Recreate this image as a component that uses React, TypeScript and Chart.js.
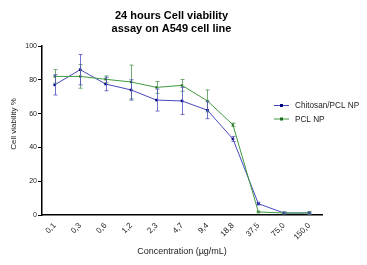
import React, { useEffect, useRef } from "react";
import { Chart, registerables } from "chart.js";

Chart.register(...registerables);

const categories = ["0,1", "0,3", "0,6", "1,2", "2,3", "4,7", "9,4", "18,8", "37,5", "75,0", "150,0"];
const chitosanValues = [77, 86, 77.5, 74, 68, 67.5, 62, 45, 6.7, 1.2, 1.2];
const chitosanErrors = [6, 9, 4, 6, 6.5, 8, 5, 1.5, 0.8, 0.5, 0.5];
const pclValues = [82, 82, 80.3, 78.7, 75.5, 76.7, 67.5, 53.4, 1.8, 1.2, 1.2];
const pclErrors = [4, 7, 2, 10, 3.5, 3.5, 6.5, 1, 0.5, 0.5, 0.8];
const yTicks = [0, 20, 40, 60, 80, 100];
const titleLines = ["24 hours Cell viability", "assay on A549 cell line"];
const seriesNames = ["Chitosan/PCL NP", "PCL NP"];
const yTitle = "Cell viability %";

const FONT = "'Liberation Sans', Arial, sans-serif";

const errorBarPlugin = {
  id: "errorBars",
  afterDatasetsDraw(chart: any) {
    const ctx = chart.ctx;
    const xs = chart.scales.x;
    const ys = chart.scales.y;
    const sets = [
      { v: pclValues, e: pclErrors, c: "rgba(80,150,80,0.8)" },
      { v: chitosanValues, e: chitosanErrors, c: "rgba(80,80,190,0.8)" },
    ];
    ctx.save();
    ctx.lineWidth = 1;
    sets.forEach((s) => {
      ctx.strokeStyle = s.c;
      s.v.forEach((v, i) => {
        const x = Math.round(xs.getPixelForValue(i)) + 0.5;
        const yt = ys.getPixelForValue(v + s.e[i]);
        const yb = ys.getPixelForValue(Math.max(0, v - s.e[i]));
        ctx.beginPath();
        ctx.moveTo(x, yt);
        ctx.lineTo(x, yb);
        ctx.moveTo(x - 2, yt);
        ctx.lineTo(x + 2, yt);
        ctx.moveTo(x - 2, yb);
        ctx.lineTo(x + 2, yb);
        ctx.stroke();
      });
    });
    ctx.restore();
  },
};

const decorPlugin = {
  id: "decor",
  afterDraw(chart: any) {
    const ctx = chart.ctx;
    ctx.save();
    // title
    ctx.fillStyle = "#000";
    ctx.font = `bold 11px ${FONT}`;
    ctx.textAlign = "center";
    ctx.textBaseline = "middle";
    ctx.fillText(titleLines[0], 163.5, 7.5);
    ctx.fillText(titleLines[1], 163.5, 20.5);
    // y axis title
    ctx.save();
    ctx.translate(6, 116);
    ctx.rotate(-Math.PI / 2);
    ctx.font = `8px ${FONT}`;
    ctx.fillStyle = "#222";
    ctx.fillText(yTitle, 0, 0);
    ctx.restore();
    // legend
    const items = [
      { name: seriesNames[0], line: "#4848c0", mark: "#000080", y: 97.5 },
      { name: seriesNames[1], line: "#3f9a3f", mark: "#1d6b1d", y: 111 },
    ];
    ctx.font = `8.2px ${FONT}`;
    ctx.textAlign = "left";
    items.forEach((it) => {
      ctx.strokeStyle = it.line;
      ctx.lineWidth = 1;
      ctx.beginPath();
      ctx.moveTo(266, it.y);
      ctx.lineTo(281, it.y);
      ctx.stroke();
      ctx.fillStyle = it.mark;
      ctx.fillRect(272, it.y - 1.5, 3, 3);
      ctx.fillStyle = "#222";
      ctx.fillText(it.name, 287, it.y + 0.5);
    });
    ctx.restore();
  },
};

export default function App() {
  const ref = useRef<HTMLCanvasElement>(null);
  useEffect(() => {
    if (!ref.current) return;
    const chart = new Chart(ref.current, {
      type: "line",
      data: {
        labels: categories,
        datasets: [
          {
            label: seriesNames[1],
            data: pclValues,
            borderColor: "#3f9a3f",
            backgroundColor: "#1d6b1d",
            borderWidth: 1,
            pointStyle: "rect",
            pointRadius: 1.6,
            pointBorderWidth: 0,
            tension: 0,
          },
          {
            label: seriesNames[0],
            data: chitosanValues,
            borderColor: "#4848c0",
            backgroundColor: "#000080",
            borderWidth: 1,
            pointStyle: "rect",
            pointRadius: 1.8,
            pointBorderWidth: 0,
            tension: 0,
          },
        ],
      },
      options: {
        responsive: false,
        animation: false,
        layout: { padding: { top: 38, right: 37, left: 0, bottom: 0 } },
        plugins: { legend: { display: false }, tooltip: { enabled: false }, title: { display: false } },
        scales: {
          x: {
            offset: true,
            grid: { display: false, drawOnChartArea: false, drawTicks: true, tickLength: 4, tickColor: "#000", offset: false },
            border: { color: "#000", width: 1.5 },
            ticks: {
              color: "#222",
              font: { family: FONT, size: 8 },
              maxRotation: 45,
              minRotation: 45,
              padding: 2,
              autoSkip: false,
            },
            title: {
              display: true,
              text: "Concentration (µg/mL)",
              color: "#222",
              font: { family: FONT, size: 9 },
              padding: { top: 2, bottom: 0 },
            },
            afterFit(scale: any) {
              scale.height = 42;
            },
          },
          y: {
            min: 0,
            max: 100,
            afterBuildTicks(scale: any) {
              scale.ticks = yTicks.map((v) => ({ value: v }));
            },
            grid: { display: true, drawOnChartArea: false, drawTicks: true, tickLength: 4, tickColor: "#000" },
            border: { color: "#000", width: 1.5 },
            ticks: {
              color: "#222",
              font: { family: FONT, size: 7 },
              padding: 1,
            },
            afterFit(scale: any) {
              scale.width = 34;
            },
          },
        },
      },
      plugins: [errorBarPlugin, decorPlugin],
    });
    return () => chart.destroy();
  }, []);
  return (
    <div style={{ width: 351, height: 249 }}>
      <canvas ref={ref} width={351} height={249} style={{ display: "block" }} />
    </div>
  );
}
